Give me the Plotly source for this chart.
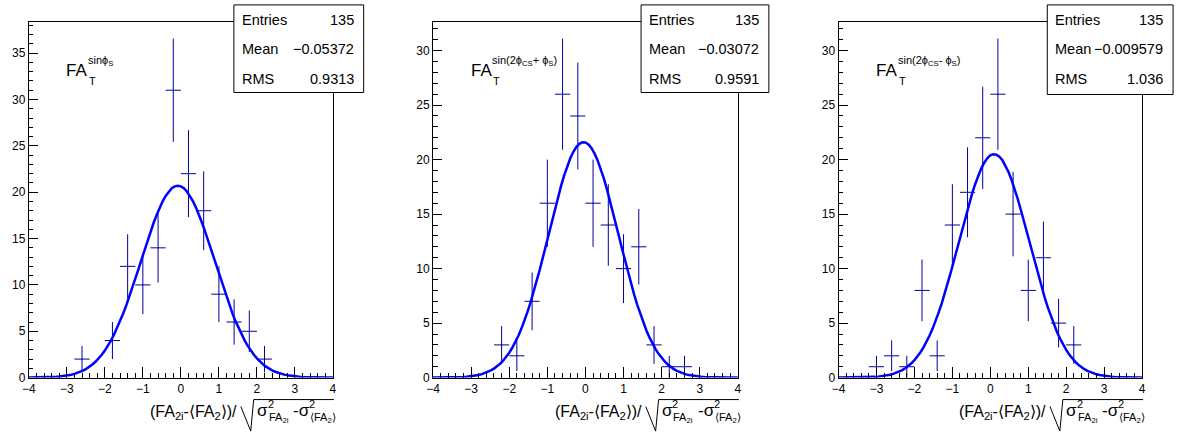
import numpy as np
import plotly.graph_objects as go

W, H = 1187, 442

# Bin centres (bin width 0.4) and entries for the three pull distributions
x1 = [-2.6, -1.8, -1.4, -1.0, -0.6, -0.2, 0.2, 0.6, 1.0, 1.4, 1.8, 2.2]
n1 = [2, 4, 12, 10, 14, 31, 22, 18, 9, 6, 5, 2]
x2 = [-2.2, -1.8, -1.4, -1.0, -0.6, -0.2, 0.2, 0.6, 1.0, 1.4, 1.8, 2.2, 2.6]
n2 = [3, 2, 7, 16, 26, 24, 16, 14, 10, 12, 3, 1, 1]
x3 = [-3.0, -2.6, -2.2, -1.8, -1.4, -1.0, -0.6, -0.2, 0.2, 0.6, 1.0, 1.4, 1.8, 2.2]
n3 = [1, 2, 1, 8, 2, 14, 17, 22, 26, 15, 8, 11, 5, 3]

# Gaussian fit parameters: constant, mean, sigma
fit1 = [20.7, -0.08, 0.97]
fit2 = [21.6, -0.05, 0.92]
fit3 = [20.5, 0.10, 0.93]

# Statistics box contents
stat_entries = ["135", "135", "135"]
stat_mean = ["\u22120.05372", "\u22120.03072", "\u22120.009579"]
stat_rms = ["0.9313", "0.9591", "1.036"]

# Superscripts of the FA_T labels
sup_labels = ["sin\u03d5<sub>S</sub>",
              "sin(2\u03d5<sub>CS</sub>+ \u03d5<sub>S</sub>)",
              "sin(2\u03d5<sub>CS</sub>- \u03d5<sub>S</sub>)"]

xs = [x1, x2, x3]
ns = [n1, n2, n3]
fits = [fit1, fit2, fit3]

# Pad geometry in pixels
frames = [(22, 329), (430, 737.7), (839.3, 1145.7)]
f_top, f_bot = 22, 383.7
boxes = [(229, 5, 360, 94), (640, 5, 769, 94), (1050, 5, 1177, 96)]

FONT = "Liberation Sans, Arial, Helvetica, sans-serif"
ERR_COL = "#000099"
FIT_COL = "#0000ff"


def px(x):
    return x / W


def py(y):
    return 1 - y / H


fig = go.Figure()
shapes = []
annotations = []


def label(text, x, y, size, xanchor="left"):
    annotations.append(dict(text=text, xref="paper", yref="paper",
                            x=px(x), y=py(y), xanchor=xanchor, yanchor="middle",
                            showarrow=False,
                            font=dict(family=FONT, size=size, color="black")))


for i in range(3):
    k = "" if i == 0 else str(i + 1)
    xa, ya = "x" + k, "y" + k
    x = np.array(xs[i], dtype=float)
    n = np.array(ns[i], dtype=float)
    err = np.sqrt(n)

    fig.add_trace(go.Scatter(
        x=x, y=n, mode="markers", xaxis=xa, yaxis=ya,
        marker=dict(size=1, color=ERR_COL),
        error_x=dict(type="constant", value=0.2, width=0, thickness=1, color=ERR_COL),
        error_y=dict(type="data", array=err, width=0, thickness=1, color=ERR_COL),
        showlegend=False, hoverinfo="skip"))

    a, mu, sg = fits[i]
    xf = np.linspace(-4, 4, 101)
    yf = a * np.exp(-0.5 * ((xf - mu) / sg) ** 2)
    fig.add_trace(go.Scatter(
        x=xf, y=yf, mode="lines", xaxis=xa, yaxis=ya,
        line=dict(color=FIT_COL, width=2.5),
        showlegend=False, hoverinfo="skip"))

    L, R = frames[i]
    ymax = float(np.max(n + err)) * 1.05

    axis_common = dict(
        showline=True, linecolor="black", linewidth=1, mirror=True,
        showgrid=False, zeroline=False, ticks="inside", tickcolor="black",
        tickwidth=1, tickfont=dict(family=FONT, size=12, color="black"),
    )
    fig.layout["xaxis" + k] = dict(
        axis_common, domain=[px(L), px(R)], range=[-4, 4], anchor=ya,
        dtick=1, tick0=0, ticklen=11,
        minor=dict(dtick=0.2, ticklen=5, ticks="inside", tickcolor="black", showgrid=False),
    )
    fig.layout["yaxis" + k] = dict(
        axis_common, domain=[py(f_bot), py(f_top)], range=[0, ymax], anchor=xa,
        dtick=5, tick0=0, ticklen=9,
        minor=dict(dtick=1, ticklen=4.5, ticks="inside", tickcolor="black", showgrid=False),
    )

    # Statistics box
    bx0, by0, bx1, by1 = boxes[i]
    shapes.append(dict(type="rect", xref="paper", yref="paper",
                       x0=px(bx0), x1=px(bx1), y0=py(by1), y1=py(by0),
                       fillcolor="white", line=dict(color="black", width=1),
                       layer="above"))
    rows = [("Entries", stat_entries[i]), ("Mean", stat_mean[i]), ("RMS", stat_rms[i])]
    row_y = [20, 50, 80]
    for (lab, val), ry in zip(rows, row_y):
        label(lab, bx0 + 6, ry, 14.5)
        label(val, bx1 - 8, ry, 14.5, xanchor="right")

    # FA_T label with its superscript
    lx = L + 36
    label("FA", lx, 72, 17)
    label("T", lx + 23, 82, 11)
    label(sup_labels[i], lx + 22, 62, 11)

    # X-axis title: (FA_2i - <FA_2>) / sqrt(sigma^2_FA2i - sigma^2_<FA2>)
    label("(FA<sub>2i</sub>-\u27e8FA<sub>2</sub>\u27e9)/", R - 95, 419, 16, xanchor="right")
    shapes.append(dict(type="path", xref="paper", yref="paper",
                       path=f"M {px(R - 93)},{py(413)} L {px(R - 83)},{py(438)} "
                            f"L {px(R - 80)},{py(406)} L {px(R + 1)},{py(406)}",
                       line=dict(color="black", width=1)))
    label("\u03c3", R - 79, 417, 17)
    label("2", R - 68, 411, 11)
    label("FA<sub>2i</sub>", R - 67, 425, 11)
    label("-\u03c3", R - 42, 417, 17)
    label("2", R - 26, 411, 11)
    label("\u27e8FA<sub>2</sub>\u27e9", R - 25, 425, 11)

fig.update_layout(
    width=W, height=H, margin=dict(l=0, r=0, t=0, b=0),
    paper_bgcolor="white", plot_bgcolor="white",
    shapes=shapes, annotations=annotations, showlegend=False,
    font=dict(family=FONT, color="black"),
)

fig.write_html("out.html")
